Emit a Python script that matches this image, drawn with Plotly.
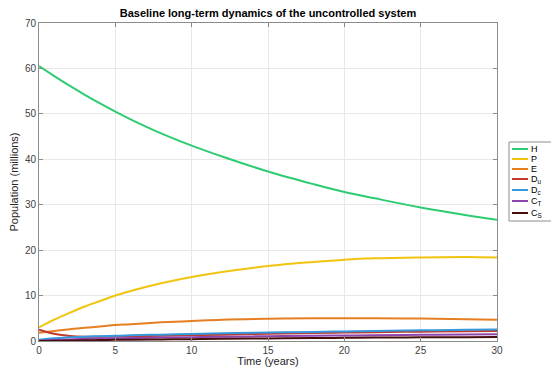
import plotly.graph_objects as go

t = [0, 1, 2, 3, 4, 5, 6, 8, 10, 12, 15, 18, 20, 22, 25, 28, 30]
H = [60.5, 58.3, 56.2, 54.2, 52.3, 50.5, 48.8, 45.7, 43.0, 40.6, 37.3, 34.5, 32.8, 31.4, 29.4, 27.7, 26.7]
P = [3.0, 4.7, 6.2, 7.6, 8.8, 10.0, 11.0, 12.7, 14.1, 15.2, 16.5, 17.4, 17.9, 18.2, 18.4, 18.5, 18.4]
E = [1.8, 2.2, 2.6, 2.9, 3.2, 3.5, 3.7, 4.1, 4.4, 4.7, 4.9, 5.0, 5.0, 5.0, 4.95, 4.8, 4.7]
t_du = [0, 0.5, 1, 1.5, 2, 3, 4, 5, 6, 8, 10, 12, 15, 18, 20, 22, 25, 28, 30]
Du = [2.5, 2.0, 1.6, 1.3, 1.1, 0.95, 0.95, 1.0, 1.05, 1.15, 1.3, 1.4, 1.6, 1.75, 1.85, 1.95, 2.05, 2.15, 2.2]
Dc = [0.3, 0.6, 0.8, 0.95, 1.05, 1.15, 1.25, 1.4, 1.55, 1.7, 1.85, 2.0, 2.1, 2.2, 2.35, 2.45, 2.55]
CT = [0.05, 0.2, 0.35, 0.45, 0.55, 0.6, 0.65, 0.75, 0.85, 0.95, 1.05, 1.15, 1.2, 1.25, 1.35, 1.45, 1.5]
CS = [0.0, 0.05, 0.1, 0.15, 0.2, 0.25, 0.3, 0.35, 0.4, 0.5, 0.55, 0.65, 0.7, 0.75, 0.8, 0.85, 0.9]

names = ["H", "P", "E", "D<sub>u</sub>", "D<sub>c</sub>", "C<sub>T</sub>", "C<sub>S</sub>"]
colors = ["#2ecc71", "#f1c40f", "#e67e22", "#c0392b", "#3498db", "#8e44ad", "#4a0e0e"]
xs = [t, t, t, t_du, t, t, t]
ys = [H, P, E, Du, Dc, CT, CS]

W, Hgt = 551, 367
ML, MR, MT, MB = 39, 54, 23, 26
PW, PH = W - ML - MR, Hgt - MT - MB

def px_x(p):
    return (p - ML) / PW

def px_y(p):
    return (Hgt - MB - p) / PH

fig = go.Figure()
for name, x, y, c in zip(names, xs, ys, colors):
    fig.add_trace(go.Scatter(x=x, y=y, name=name, mode="lines",
                             line=dict(color=c, width=2, shape="spline")))

axis_common = dict(
    showline=True, linecolor="#8c8c8c", linewidth=1, mirror="ticks",
    ticks="inside", ticklen=4, tickcolor="#8c8c8c",
    showgrid=True, gridcolor="#e8e8e8", gridwidth=1, zeroline=False,
    tickfont=dict(size=10, color="#404040"),
)
fig.update_xaxes(range=[0, 30], dtick=5, title=dict(text="Time (years)", standoff=2,
                 font=dict(size=11, color="#262626")), **axis_common)
fig.update_yaxes(range=[0, 70], dtick=10, title=dict(text="Population (millions)", standoff=4,
                 font=dict(size=11, color="#262626")), **axis_common)

# manual compact legend (outside right, clipped by page edge like the reference)
shapes = [dict(type="rect", xref="paper", yref="paper",
               x0=px_x(509), x1=px_x(560), y0=px_y(142), y1=px_y(221),
               line=dict(color="#8c8c8c", width=1), fillcolor="white", layer="above")]
annotations = []
row_y = [149, 159, 169, 179, 190, 201, 213]
for name, c, ry in zip(names, colors, row_y):
    shapes.append(dict(type="line", xref="paper", yref="paper",
                       x0=px_x(512), x1=px_x(528), y0=px_y(ry), y1=px_y(ry),
                       line=dict(color=c, width=2), layer="above"))
    annotations.append(dict(text=name, xref="paper", yref="paper",
                            x=px_x(529), y=px_y(ry), xanchor="left", yanchor="middle",
                            showarrow=False, font=dict(size=9, color="#000000")))

fig.update_layout(
    width=W, height=Hgt,
    margin=dict(l=ML, r=MR, t=MT, b=MB, autoexpand=False),
    paper_bgcolor="white", plot_bgcolor="white",
    font=dict(family="Liberation Sans, Arial, sans-serif", color="#262626"),
    title=dict(text="<b>Baseline long-term dynamics of the uncontrolled system</b>",
               x=0.5, xref="paper", xanchor="center", y=0.975, yanchor="top",
               font=dict(size=11, color="#000000")),
    showlegend=False,
    shapes=shapes,
    annotations=annotations,
)

fig.write_html("out.html")
